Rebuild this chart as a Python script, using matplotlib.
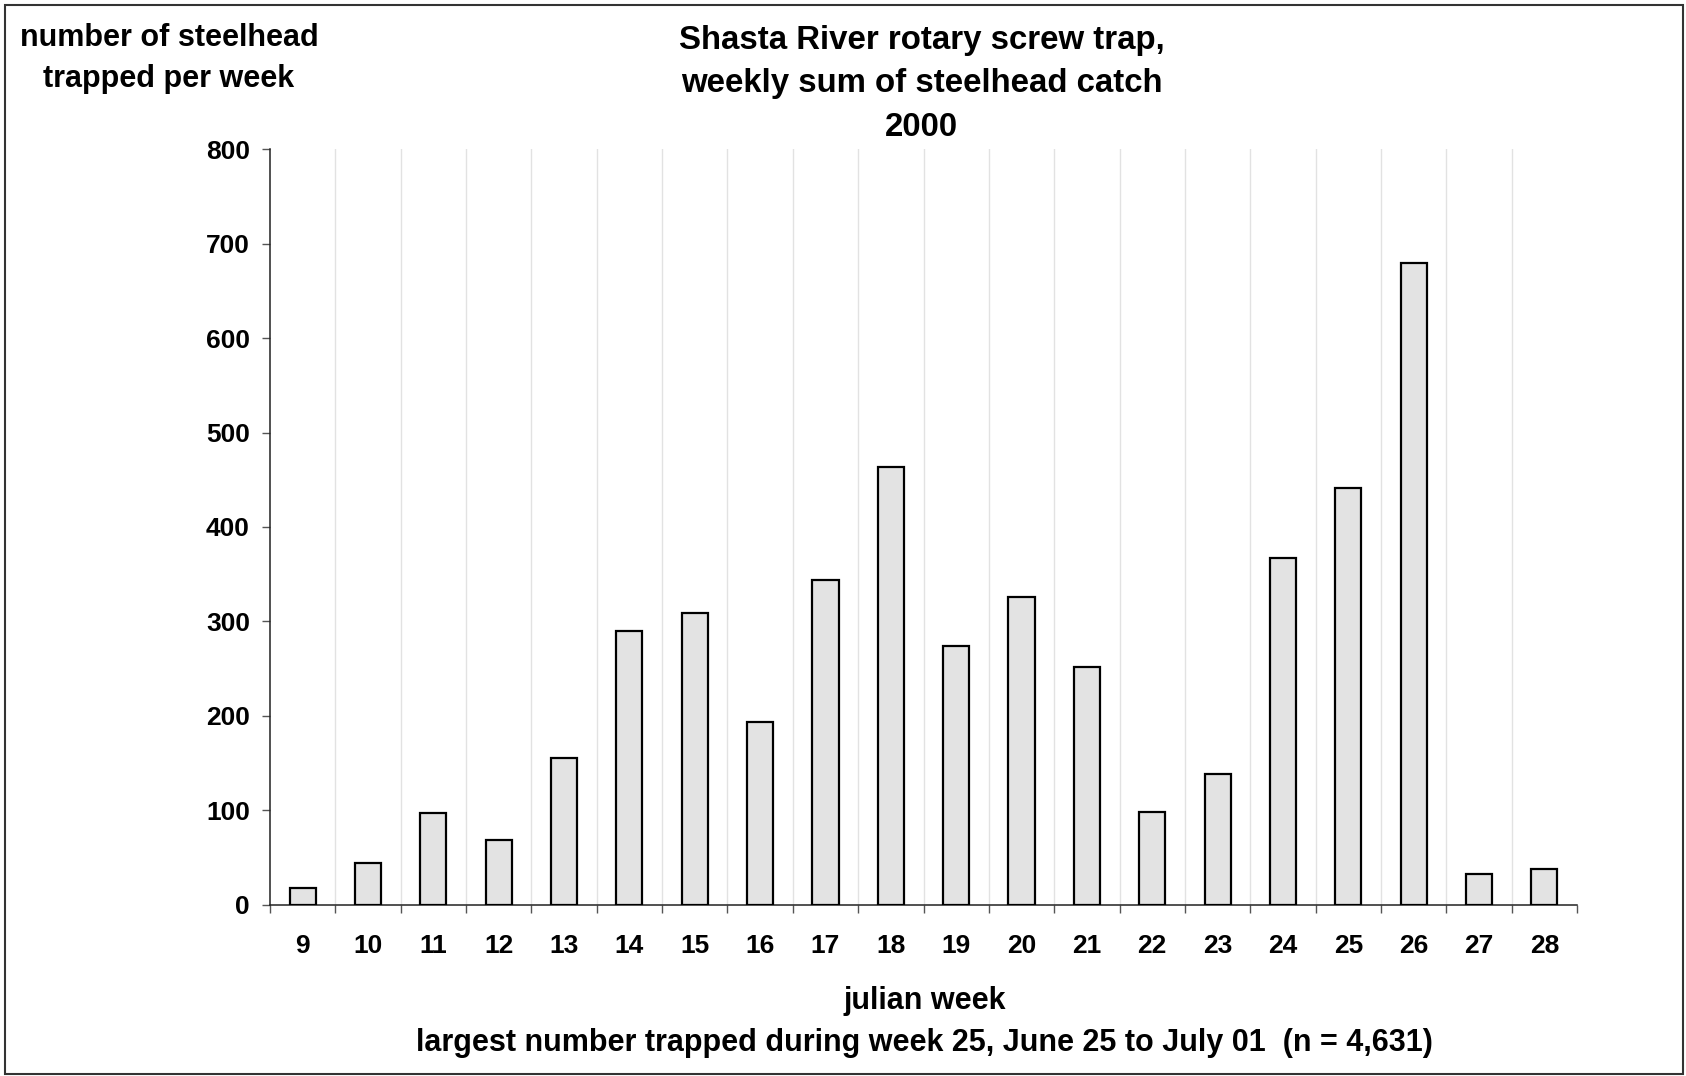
import numpy as np
import matplotlib
matplotlib.use("Agg")
import matplotlib.pyplot as plt
from matplotlib.patches import Rectangle

# weekly steelhead catch, Shasta River rotary screw trap, 2000
weeks = [9, 10, 11, 12, 13, 14, 15, 16, 17, 18, 19, 20, 21, 22, 23, 24, 25, 26, 27, 28]
catch = [18, 44, 97, 69, 155, 290, 309, 193, 344, 464, 274, 326, 252, 98, 138, 367, 441, 680, 33, 38]
y_ticks = [0, 100, 200, 300, 400, 500, 600, 700, 800]

plt.rcParams['font.family'] = ['Liberation Sans', 'DejaVu Sans']
plt.rcParams['font.weight'] = 'bold'

W, H = 1686, 1076
fig = plt.figure(figsize=(W / 100, H / 100), dpi=100)
ax = fig.add_axes([270 / W, 1 - 904.7 / H, (1577 - 270) / W, (904.7 - 149.3) / H])

x = np.arange(len(weeks))
ax.bar(x, catch, width=0.4, color='#e3e3e3', edgecolor='black', linewidth=1.6, zorder=3)

# light vertical separators between weeks
for b in x[:-1] + 0.5:
    ax.axvline(b, color='#e2e2e2', linewidth=1, zorder=0)

ax.set_xlim(-0.5, len(weeks) - 0.5)
ax.set_ylim(0, 800)

ax.set_yticks(y_ticks)
ax.set_yticklabels([str(v) for v in y_ticks], fontsize=19, fontweight='bold')
ax.tick_params(axis='y', length=6, width=1, color='#555555', pad=8.5)

ax.set_xticks(x)
ax.set_xticklabels([str(w) for w in weeks], fontsize=19, fontweight='bold')
ax.tick_params(axis='x', which='major', length=0, pad=21)
ax.set_xticks(np.arange(len(weeks) + 1) - 0.5, minor=True)
ax.tick_params(axis='x', which='minor', length=6, width=1, color='#555555', direction='out')

for s in ['top', 'right']:
    ax.spines[s].set_visible(False)
for s in ['left', 'bottom']:
    ax.spines[s].set_linewidth(1.1)
    ax.spines[s].set_color('#222222')

# titles and labels placed in figure pixels
def fy(py):
    return 1 - py / H

fig.text(921.5 / W, fy(40.5), 'Shasta River rotary screw trap,', ha='center', va='center',
         fontsize=23.8, fontweight='bold')
fig.text(921.5 / W, fy(83.5), 'weekly sum of steelhead catch', ha='center', va='center',
         fontsize=23.8, fontweight='bold')
fig.text(921.5 / W, fy(127.5), '2000', ha='center', va='center',
         fontsize=23.8, fontweight='bold')

fig.text(169 / W, fy(38), 'number of steelhead', ha='center', va='center',
         fontsize=22, fontweight='bold')
fig.text(169 / W, fy(79), 'trapped per week', ha='center', va='center',
         fontsize=22, fontweight='bold')

fig.text(924.7 / W, fy(1000.5), 'julian week', ha='center', va='center',
         fontsize=22, fontweight='bold')
fig.text(924.7 / W, fy(1043.5), 'largest number trapped during week 25, June 25 to July 01  (n = 4,631)',
         ha='center', va='center', fontsize=22, fontweight='bold')

# frame around the whole chart
fig.patches.append(Rectangle((5 / W, 2 / H), (W - 8) / W, (H - 7) / H, transform=fig.transFigure,
                             fill=False, edgecolor='#333333', linewidth=1.5))

fig.savefig('out.png', dpi=100)
